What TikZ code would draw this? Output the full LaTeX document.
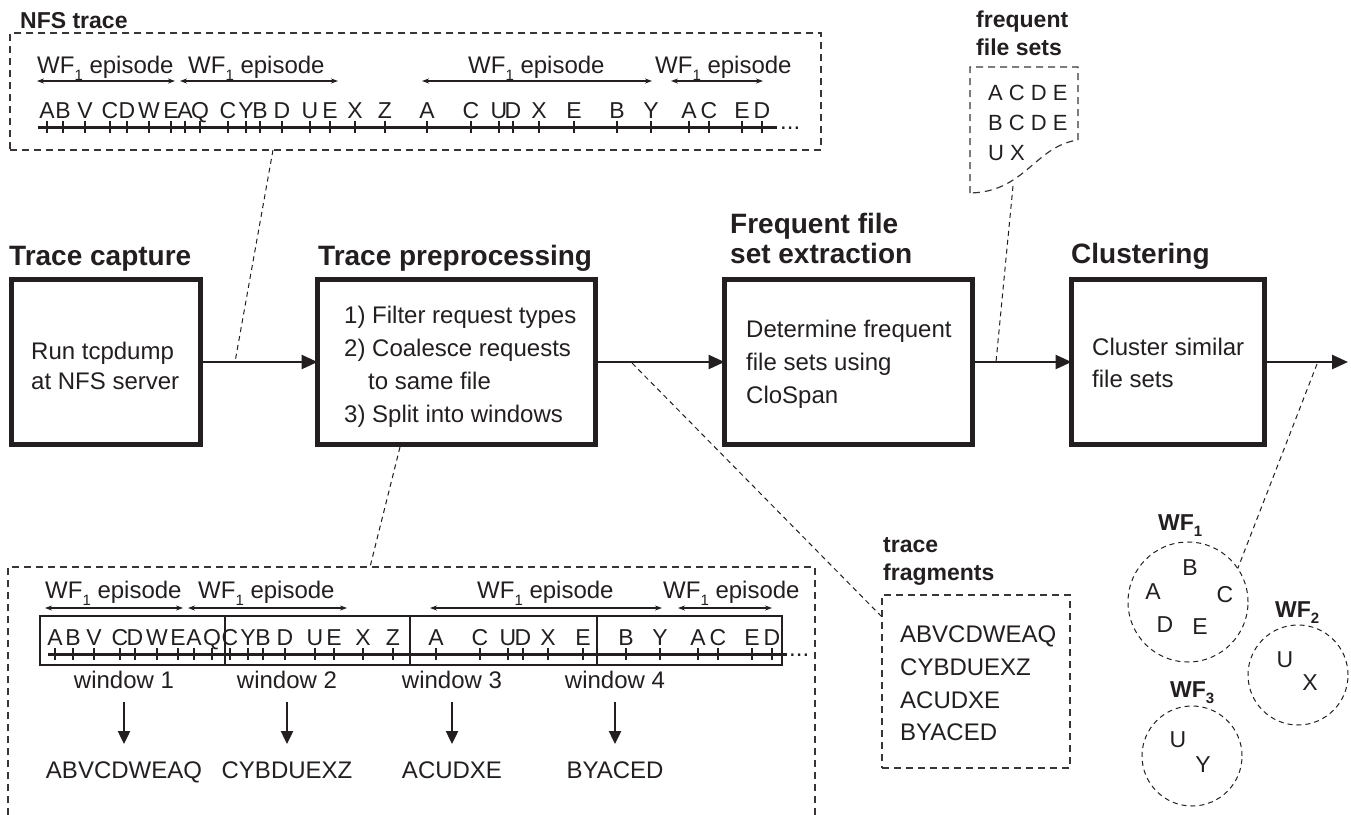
\documentclass[tikz,border=0pt]{standalone}
\usepackage{fontspec}
\setmainfont{Liberation Sans}
\usetikzlibrary{arrows.meta}
\definecolor{ink}{HTML}{231F20}
\newcommand{\wfsub}[1]{\raisebox{-0.3em}{\fontsize{15}{15}\selectfont #1}}
\begin{document}
\begin{tikzpicture}[x=1pt,y=-1pt,
  stage/.style={draw=ink,line width=5pt,inner sep=0pt,outer sep=0pt,minimum height=165pt},
  head/.style={font=\fontsize{28}{30}\selectfont\bfseries,text=ink,anchor=base west,inner sep=0pt},
  tag/.style={font=\fontsize{23}{26}\selectfont\bfseries,text=ink,anchor=base west,inner sep=0pt},
  body/.style={font=\fontsize{24}{28}\selectfont,text=ink,anchor=base west,inner sep=0pt},
  letter/.style={font=\fontsize{23}{26}\selectfont,text=ink,anchor=base,inner sep=0pt},
  flow/.style={draw=ink,line width=2.6pt,-{Triangle[length=16pt,width=14pt]}},
  down/.style={draw=ink,line width=2.4pt,-{Triangle[length=13pt,width=12pt]}},
  span/.style={draw=ink,line width=1.1pt,{Stealth[length=7pt,width=5pt]}-{Stealth[length=7pt,width=5pt]}},
  frame/.style={draw=ink!90,line width=1.2pt,dash pattern=on 7pt off 5pt},
  callout/.style={draw=ink,line width=1pt,dash pattern=on 5pt off 4pt},
  cluster/.style={circle,draw=ink,line width=1pt,dash pattern=on 5pt off 4pt,inner sep=0pt,outer sep=0pt},
  win/.style={draw=ink,line width=1.3pt,inner sep=0pt,outer sep=0pt,minimum height=49pt},
  timeline/.style={draw=ink,line width=3pt},
  tick/.style={draw=ink,line width=1.8pt}]
\useasboundingbox (0,0) rectangle (1351,814);

% ---------- pipeline stages ----------
\node[stage,minimum width=189pt] (cap)  at (106,362)   {};
\node[stage,minimum width=278pt] (prep) at (456.5,362) {};
\node[stage,minimum width=248pt] (ffs)  at (848.5,362) {};
\node[stage,minimum width=193pt] (clus) at (1168,362)  {};

\node[head] (capH)  at (9,265)    {Trace capture};
\node[head] (prepH) at (318,265)  {Trace preprocessing};
\node[head] (ffsH1) at (730,233)  {Frequent file};
\node[head] (ffsH2) at (730,263)  {set extraction};
\node[head] (clusH) at (1071,263) {Clustering};

\node[body] (cap1) at (31,359) {Run tcpdump};
\node[body] (cap2) at (31,389) {at NFS server};

\node[body] (prep1) at (344,323) {1) Filter request types};
\node[body] (prep2) at (344,356) {2) Coalesce requests};
\node[body] (prep3) at (368,389) {to same file};
\node[body] (prep4) at (344,422) {3) Split into windows};

\node[body] (ffs1) at (746,337) {Determine frequent};
\node[body] (ffs2) at (746,370) {file sets using};
\node[body] (ffs3) at (746,403) {CloSpan};

\node[body] (clus1) at (1092,355) {Cluster similar};
\node[body] (clus2) at (1092,387) {file sets};

\coordinate (out) at (1348,362);
\draw[flow] (cap.east) -- (prep.west);
\draw[flow] (prep.east) -- (ffs.west);
\draw[flow] (ffs.east) -- (clus.west);
\draw[flow] (clus.east) -- (out);

% ---------- NFS trace panel ----------
\node[tag] (nfsH) at (20,28) {NFS trace};
\node[frame,inner sep=0pt,outer sep=0pt,minimum width=811pt,minimum height=117pt] (nfs) at (415.5,91.5) {};

\draw[span] (37,81) -- (175,81);
\draw[span] (180,81) -- (338,81);
\draw[span] (422,81) -- (652,81);
\draw[span] (671,81) -- (763,81);
\node[body] (ep1) at (37,73)  {WF\wfsub{1} episode};
\node[body] (ep2) at (188,73) {WF\wfsub{1} episode};
\node[body] (ep3) at (468,73) {WF\wfsub{1} episode};
\node[body] (ep4) at (655,73) {WF\wfsub{1} episode};

\draw[timeline] (38,127) -- (777,127);
\foreach \x/\l in {47/A,63/B,85/V,110/C,127/D,149/W,171/E,185/A,200/Q,228/C,246/Y,260/B,282/D,310/U,330/E,355/X,385/Z,427/A,471/C,499/U,513/D,539/X,574/E,617/B,651/Y,689/A,709/C,742/E,762/D}{
  \node[letter] (top\x) at (\x,118) {\l};
  \draw[tick] (\x,121) -- (\x,133);
}
\node[body] (topdots) at (780,129) {...};

% callout from the captured trace to the first link
\coordinate (nfsfoot) at (273,150);
\coordinate (capjoin) at (235,362);
\draw[callout] (nfsfoot) -- (capjoin);

% ---------- windowed trace panel ----------
\draw[frame] (8,815) |- (815,567) -- (815,815);

\draw[span] (45,608) -- (183,608);
\draw[span] (188,608) -- (347,608);
\draw[span] (430,608) -- (662,608);
\draw[span] (678,608) -- (772,608);
\node[body] (bep1) at (45,598)  {WF\wfsub{1} episode};
\node[body] (bep2) at (198,598) {WF\wfsub{1} episode};
\node[body] (bep3) at (477,598) {WF\wfsub{1} episode};
\node[body] (bep4) at (663,598) {WF\wfsub{1} episode};

\node[win,minimum width=185pt] (w1) at (132.5,640.5) {};
\node[win,minimum width=185pt] (w2) at (317.5,640.5) {};
\node[win,minimum width=187pt] (w3) at (503.5,640.5) {};
\node[win,minimum width=185pt] (w4) at (689.5,640.5) {};

\draw[timeline] (48,654) -- (787,654);
\foreach \x/\l in {55/A,73/B,94/V,120/C,135/D,157/W,178/E,194/A,212/Q,230/C,248/Y,263/B,285/D,315/U,334/E,363/X,393/Z,436/A,480/C,508/U,523/D,548/X,583/E,626/B,660/Y,698/A,718/C,752/E,772/D}{
  \node[letter] (bot\x) at (\x,645) {\l};
  \draw[tick] (\x,648) -- (\x,660);
}
\node[body] (botdots) at (789,656) {...};

\foreach \n/\x/\s in {1/124/ABVCDWEAQ,2/287/CYBDUEXZ,3/452/ACUDXE,4/615/BYACED}{
  \node[body,anchor=base] (wl\n) at (\x,688) {window \n};
  \node[body,anchor=base] (frag\n) at (\x,778) {\s};
  \draw[down] (\x,702) -- (frag\n.north |- 0,744);
}

\coordinate (prepfoot) at (400,447);
\coordinate (winhead) at (370,567);
\draw[callout] (prepfoot) -- (winhead);

% ---------- trace fragments ----------
\node[tag] (frH1) at (883,552) {trace};
\node[tag] (frH2) at (883,580) {fragments};
\node[frame,inner sep=0pt,outer sep=0pt,minimum width=188pt,minimum height=173pt] (frbox) at (976,681.5) {};
\node[body] (fr1) at (900,642) {ABVCDWEAQ};
\node[body] (fr2) at (900,675) {CYBDUEXZ};
\node[body] (fr3) at (900,708) {ACUDXE};
\node[body] (fr4) at (900,740) {BYACED};

\coordinate (prepout) at (632,363);
\draw[callout] (prepout) -- (frbox.north west |- 0,617);

% ---------- frequent file sets ----------
\node[tag] (fsH1) at (976,27) {frequent};
\node[tag] (fsH2) at (976,55) {file sets};
\draw[frame] (970,193) -- (970,67) -- (1078,67) -- (1078,140)
  .. controls (1035,146) and (1025,192) .. (970,193);
\node[body,font=\fontsize{22}{26}\selectfont] (fs1) at (988,100) {A C D E};
\node[body,font=\fontsize{22}{26}\selectfont] (fs2) at (988,130) {B C D E};
\node[body,font=\fontsize{22}{26}\selectfont] (fs3) at (988,160) {U X};
\coordinate (fsfoot) at (1013,186);
\coordinate (ffsout) at (996,362);
\draw[callout] (fsfoot) -- (ffsout);

% ---------- clusters ----------
\node[cluster,minimum size=120pt] (wf1) at (1188,602) {};
\node[cluster,minimum size=100pt] (wf2) at (1298,675) {};
\node[cluster,minimum size=100pt] (wf3) at (1192,756) {};
\node[tag] (wf1H) at (1158,530) {WF\wfsub{1}};
\node[tag] (wf2H) at (1275,617) {WF\wfsub{2}};
\node[tag] (wf3H) at (1170,697) {WF\wfsub{3}};
\foreach \nm/\x/\y/\l in {cB/1190/568/B,cA/1153/592/A,cC/1225/595/C,cD/1165/625/D,cE/1200/627/E,
                       dU/1285/660/U,dX/1310/683/X,eU/1178/740/U,eY/1203/765/Y}{
  \node[letter,anchor=center] (\nm) at (\x,\y) {\l};
}
\coordinate (clusout) at (1317,364);
\draw[callout] (clusout) -- (wf1.34);

\end{tikzpicture}
\end{document}
